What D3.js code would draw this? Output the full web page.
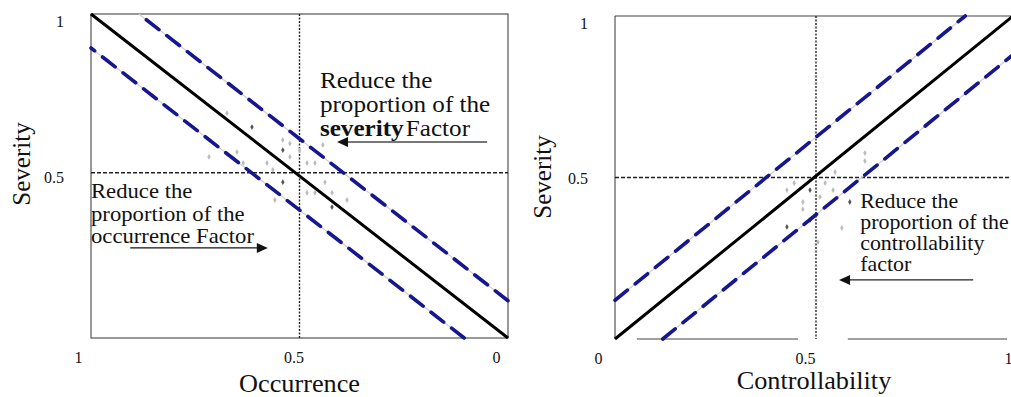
<!DOCTYPE html>
<html>
<head>
<meta charset="utf-8">
<script src="https://cdn.jsdelivr.net/npm/d3@7"></script>
<style>
  html, body { margin: 0; padding: 0; background: #fff; }
  svg { display: block; }
  text { font-family: "Liberation Serif", "Times New Roman", serif; fill: #111; }
</style>
</head>
<body>
<svg id="chart" width="1011" height="397"></svg>
<script>
// ---------- data ----------
const tickValues = [0, 0.5, 1];
const tickLabels = ["0", "0.5", "1"];

// reference lines (severity = factor + offset) for left panel (occurrence) and right (controllability)
const leftBandOffsets = [0.115, -0.105];
const rightBandOffsets = [0.12, -0.12];
const leftCross = { x: 0.5, y: 0.51 };
const rightCross = { x: 0.505, y: 0.5 };

// faint scatter points: [occurrence, severity]
const leftPointsX = [0.717,0.650,0.635,0.614,0.564,0.540,0.540,0.523,0.578,0.482,0.463,0.444,0.439,0.482,0.463,0.422,0.422,0.386,0.559,0.674,0.540,0.523,0.500];
const leftPointsY = [0.559,0.574,0.540,0.651,0.519,0.611,0.481,0.559,0.540,0.540,0.540,0.596,0.481,0.448,0.448,0.448,0.404,0.426,0.426,0.694,0.580,0.600,0.580];
const leftPointsDark = [0,0,0,1,0,0,1,0,0,0,0,0,0,0,0,0,1,0,0,0,1,0,0];
// [controllability, severity]
const rightPointsX = [0.450,0.490,0.432,0.528,0.548,0.472,0.472,0.490,0.432,0.590,0.570,0.628,0.553,0.628,0.510,0.515];
const rightPointsY = [0.483,0.461,0.461,0.483,0.461,0.424,0.402,0.368,0.347,0.424,0.344,0.576,0.517,0.551,0.300,0.440];
const rightPointsDark = [0,1,0,0,0,0,0,1,1,1,0,0,0,0,0,0];

// annotations
const leftTopText = ["Reduce the", "proportion of the"];
const leftBottomText = ["Reduce  the", "proportion of the", "occurrence Factor"];
const rightText = ["Reduce the", "proportion of the", "controllability", "factor"];

// ---------- drawing ----------
const svg = d3.select("#chart");
const BLUE = "#16168f";
const SERIF = "'Liberation Serif', 'Times New Roman', serif";

function panel(opts) {
  const g = svg.append("g");
  const x = d3.scaleLinear().domain(opts.xDomain).range(opts.xRange);
  const y = d3.scaleLinear().domain([0, 1]).range(opts.yRange);
  const [x0, x1] = opts.xRange, [y0, y1] = [opts.yRange[1], opts.yRange[0]];

  const fr = g.append("g").attr("stroke", "#444").attr("stroke-width", 1.1).attr("fill", "none");
  opts.frame(fr, x, y, x0, x1, y0, y1);

  g.append("line").attr("x1", x(opts.cross.x)).attr("x2", x(opts.cross.x))
    .attr("y1", y(1)).attr("y2", y(0))
    .attr("stroke", "#222").attr("stroke-width", 1.4).attr("stroke-dasharray", "2,1.5");
  g.append("line").attr("x1", x0).attr("x2", x1)
    .attr("y1", y(opts.cross.y)).attr("y2", y(opts.cross.y))
    .attr("stroke", "#222").attr("stroke-width", 1.4).attr("stroke-dasharray", "4,2");

  const line = d3.line().x(d => x(d[0])).y(d => y(d[1]));
  function bandPts(off) {
    const a = [Math.max(0, -off), Math.max(0, -off) + off];
    const b = [Math.min(1, 1 - off), Math.min(1, 1 - off) + off];
    return [a, b];
  }
  opts.offsets.forEach(off => {
    g.append("path").attr("d", line(bandPts(off))).attr("fill", "none")
      .attr("stroke", "#cfcfcf").attr("stroke-width", 1.2);
  });

  const pts = opts.px.map((v, i) => ({ x: v, y: opts.py[i], dark: opts.pd[i] }));
  g.selectAll("path.pt").data(pts).enter().append("path").attr("class", "pt")
    .attr("d", d3.symbol().type(d3.symbolDiamond).size(10))
    .attr("transform", d => `translate(${x(d.x)},${y(d.y)})`)
    .attr("fill", d => d.dark ? "#555" : "#bbb");

  opts.offsets.forEach(off => {
    g.append("path").attr("d", line(bandPts(off))).attr("fill", "none")
      .attr("stroke", BLUE).attr("stroke-width", 3.6)
      .attr("stroke-dasharray", "16,10").attr("stroke-linecap", "round");
  });

  g.append("path").attr("d", line([[0, 0], [1, 1]])).attr("fill", "none")
    .attr("stroke", "#000").attr("stroke-width", 3);

  const xAxis = d3.axisBottom(x).tickValues(tickValues).tickFormat((d, i) => tickLabels[i])
    .tickSize(0).tickSizeOuter(0);
  const xa = g.append("g").attr("transform", `translate(0,${y(0) + 11})`).call(xAxis);
  xa.select(".domain").remove();
  xa.selectAll("text").attr("font-size", 16).attr("fill", "#222")
    .attr("dx", d => opts.xTickDx(d));
  const yAxis = d3.axisLeft(y).tickValues([0.5, 1]).tickFormat(d => d === 1 ? "1" : "0.5")
    .tickSize(0).tickSizeOuter(0);
  const ya = g.append("g").attr("transform", `translate(${x0 - opts.yTickGap},0)`).call(yAxis);
  ya.select(".domain").remove();
  ya.selectAll("text").attr("font-size", 16).attr("fill", "#222")
    .attr("dy", d => d === 1 ? "0.75em" : "0.4em");

  g.append("text").attr("x", (x0 + x1) / 2).attr("y", opts.xTitleY)
    .attr("text-anchor", "middle").attr("font-size", 25).text(opts.xTitle)
    .attr("transform", `translate(${(x0 + x1) / 2},0) scale(1.05,1) translate(${-(x0 + x1) / 2},0)`);
  g.append("text").attr("transform", `translate(${opts.yTitleX},${opts.yTitleCY}) rotate(-90)`)
    .attr("text-anchor", "middle").attr("font-size", 25).text("Severity");

  return { g, x, y };
}

const L = panel({
  xDomain: [1, 0], xRange: [91, 508], yRange: [338, 14],
  offsets: leftBandOffsets, cross: leftCross,
  px: leftPointsX, py: leftPointsY, pd: leftPointsDark,
  xTickDx: d => d === 1 ? -13 : d === 0.5 ? -6 : -12,
  yTickGap: 24,
  xTitle: "Occurrence", xTitleY: 392,
  yTitleX: 30, yTitleCY: 164,
  frame: (fr, x, y, x0, x1, y0, y1) => {
    fr.append("rect").attr("x", x0).attr("y", y0).attr("width", x1 - x0).attr("height", y1 - y0);
  }
});

const R = panel({
  xDomain: [0, 1], xRange: [615, 1013], yRange: [339, 16],
  offsets: rightBandOffsets, cross: rightCross,
  px: rightPointsX, py: rightPointsY, pd: rightPointsDark,
  xTickDx: d => d === 0 ? -17 : d === 0.5 ? -9 : -5,
  yTickGap: 24,
  xTitle: "Controllability", xTitleY: 389,
  yTitleX: 551, yTitleCY: 177,
  frame: (fr, x, y, x0, x1, y0, y1) => {
    fr.append("line").attr("x1", x0).attr("x2", x1).attr("y1", y0).attr("y2", y0);
    fr.append("line").attr("x1", x0).attr("x2", x0).attr("y1", y0).attr("y2", y1);
    fr.append("line").attr("x1", x(0.055)).attr("x2", x(0.46)).attr("y1", y1).attr("y2", y1);
    fr.append("line").attr("x1", x(0.585)).attr("x2", x(0.985)).attr("y1", y1).attr("y2", y1);
  }
});

// annotations: one <text> per line
function multiText(parentG, xPos, yPos, lines, size, lh, sx) {
  const grp = parentG.append("g").attr("transform", `translate(${xPos},${yPos}) scale(${sx},1)`);
  lines.forEach((ln, i) => {
    grp.append("text").attr("x", 0).attr("y", i * lh).attr("font-size", size)
      .style("font-family", SERIF).text(ln);
  });
  return grp;
}
function arrow(parentG, xFrom, xTip, yy, color, width, headColor) {
  const dir = Math.sign(xTip - xFrom);
  parentG.append("line").attr("x1", xFrom).attr("x2", xTip - dir * 6).attr("y1", yy).attr("y2", yy)
    .attr("stroke", color).attr("stroke-width", width);
  parentG.append("path")
    .attr("d", `M${xTip},${yy} L${xTip - dir * 11},${yy - 5} L${xTip - dir * 11},${yy + 5} Z`)
    .attr("fill", headColor);
}

const t1 = multiText(L.g, L.x(0.451), L.y(0.772), leftTopText, 23.5, 24, 1.07);
const b1 = t1.append("text").attr("x", 0).attr("y", 48).attr("font-size", 23.5)
  .attr("font-weight", "bold").style("font-family", SERIF).text("severity");
const bw = b1.node().getComputedTextLength();
t1.append("text").attr("x", bw + 2).attr("y", 48).attr("font-size", 23.5)
  .style("font-family", SERIF).text("Factor");
arrow(L.g, L.x(0.05), L.x(0.41), L.y(0.605), "#777", 2, "#111");

multiText(L.g, L.x(1.0), L.y(0.432), leftBottomText, 21, 22.5, 1.08);
arrow(L.g, L.x(0.906), L.x(0.576), L.y(0.278), "#111", 1.2, "#111");

multiText(R.g, R.x(0.616), R.y(0.406), rightText, 20.5, 21, 1.07);
arrow(R.g, R.x(0.90), R.x(0.563), R.y(0.183), "#222", 1.2, "#111");
</script>
</body>
</html>
